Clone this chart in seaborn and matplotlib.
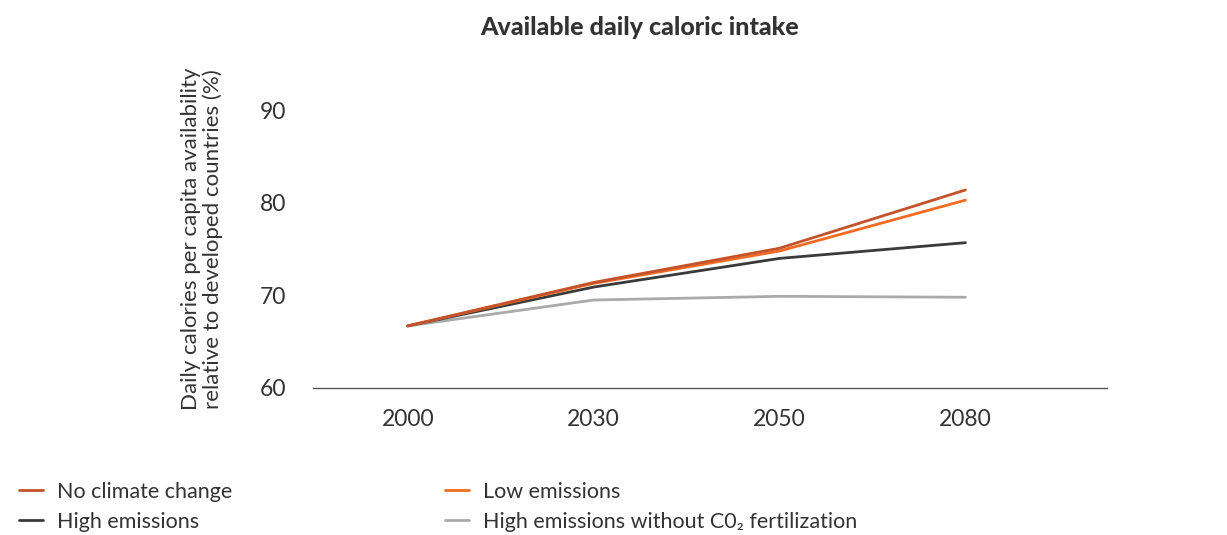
import pandas as pd
import numpy as np
import seaborn as sns
import matplotlib.pyplot as plt

# Data
years = ["2000", "2030", "2050", "2080"]
no_climate_change = [66.7, 71.4, 75.1, 81.4]
low_emissions = [66.7, 71.3, 74.8, 80.3]
high_emissions = [66.7, 70.9, 74.0, 75.7]
high_no_co2 = [66.7, 69.5, 69.9, 69.8]

series_names = [
    "No climate change",
    "Low emissions",
    "High emissions",
    "High emissions without C0₂ fertilization",
]
colors = ["#C4522A", "#F26B22", "#3A3A3A", "#AAAAAA"]

df = pd.DataFrame({
    "Year": years * 4,
    "Scenario": np.repeat(series_names, len(years)),
    "Value": no_climate_change + low_emissions + high_emissions + high_no_co2,
})

sns.set_theme(style="white")
plt.rcParams["font.family"] = ["Lato", "DejaVu Sans"]
txt = "#333333"

fig = plt.figure(figsize=(12.27, 5.35), dpi=100)
ax = fig.add_axes([0.255, 0.275, 0.647, 0.605])

# draw grey first so the coloured lines sit on top
draw_order = [3, 2, 1, 0]
for i in draw_order:
    sub = df[df["Scenario"] == series_names[i]]
    sns.lineplot(data=sub, x="Year", y="Value", color=colors[i], lw=2,
                 ax=ax, label=series_names[i], sort=False)

ax.set_xlim(-0.51, 3.76)
ax.set_ylim(60, 95)
ax.set_yticks([60, 70, 80, 90])
ax.set_xlabel("")
ax.set_ylabel("Daily calories per capita availability\nrelative to developed countries (%)",
              fontsize=16, color=txt, linespacing=1.1)
ax.yaxis.set_label_coords(-0.113, 0.46)
ax.tick_params(axis="both", length=0, labelsize=16.5, labelcolor=txt)
ax.tick_params(axis="y", pad=19)
ax.tick_params(axis="x", pad=15)

for side in ["top", "right", "left"]:
    ax.spines[side].set_visible(False)
ax.spines["bottom"].set_color("#555555")
ax.spines["bottom"].set_linewidth(1)

fig.suptitle("Available daily caloric intake", x=0.521, y=0.97,
             fontsize=18, fontweight="black", color=txt)

# legend: two columns, row 1 = No climate / Low, row 2 = High / grey
handles, labels = ax.get_legend_handles_labels()
lookup = dict(zip(labels, handles))
order = [series_names[0], series_names[2], series_names[1], series_names[3]]
ax.legend_.remove()
fig.legend([lookup[n] for n in order], order, loc="lower left",
           bbox_to_anchor=(0.0, -0.03), ncol=2, frameon=False,
           prop={"size": 15.5}, labelcolor=txt,
           handlelength=1.1, handletextpad=0.65, columnspacing=9.9,
           labelspacing=0.45)

fig.savefig("out.png", dpi=100)
